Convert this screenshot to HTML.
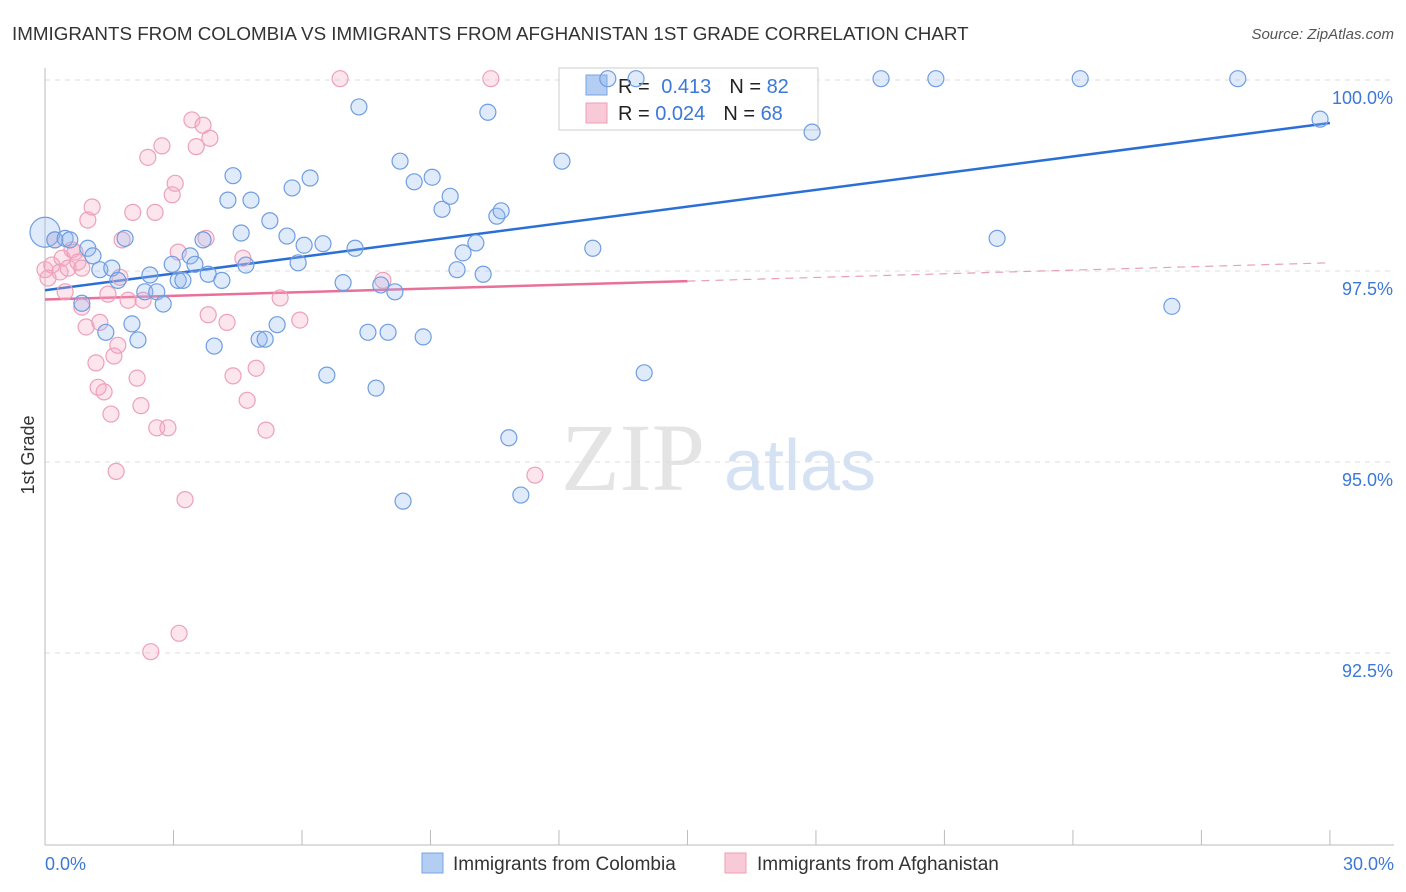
<!DOCTYPE html>
<html><head><meta charset="utf-8"><style>
body{margin:0;background:#fff;font-family:"Liberation Sans",sans-serif;}
#wrap{position:relative;width:1406px;height:892px;overflow:hidden;}
</style></head><body>
<div id="wrap">
<svg id="svg" width="1406" height="892" xmlns="http://www.w3.org/2000/svg">
<text x="12" y="40" font-size="18.8" fill="#333">IMMIGRANTS FROM COLOMBIA VS IMMIGRANTS FROM AFGHANISTAN 1ST GRADE CORRELATION CHART</text>
<text x="1394" y="39" font-size="15" fill="#555" font-style="italic" text-anchor="end">Source: ZipAtlas.com</text>
<text x="34" y="455" font-size="18" fill="#333" text-anchor="middle" transform="rotate(-90 34 455)">1st Grade</text>
<g><text x="633" y="490" font-size="96" font-family="Liberation Serif,serif" fill="#e4e4e4" text-anchor="middle">ZIP</text><text x="800" y="490" font-size="72" fill="#d4e2f4" text-anchor="middle">atlas</text></g>
<g id="grid"></g><g id="axes"></g><g id="lines"></g>
<g>
<rect x="559" y="68" width="259" height="62" fill="#fff" fill-opacity="0.85" stroke="#ccc"/>
<rect x="586" y="75" width="21" height="20" fill="#b3cdf3" stroke="#7aa5e6"/>
<rect x="586" y="103" width="21" height="20" fill="#f8c9d7" stroke="#ef9fb8"/>
<text x="618" y="93" font-size="20" fill="#222">R = <tspan fill="#3b78d8" dx="6">0.413</tspan><tspan dx="18" fill="#222">N = </tspan><tspan fill="#3b78d8">82</tspan></text>
<text x="618" y="120" font-size="20" fill="#222">R = <tspan fill="#3b78d8">0.024</tspan><tspan dx="18" fill="#222">N = </tspan><tspan fill="#3b78d8">68</tspan></text>
</g>
<g id="pts"></g>
<g>
<rect x="422" y="853" width="21" height="20" fill="#b3cdf3" stroke="#7aa5e6"/>
<text x="453" y="870" font-size="19" fill="#333">Immigrants from Colombia</text>
<rect x="725" y="853" width="21" height="20" fill="#f8c9d7" stroke="#ef9fb8"/>
<text x="757" y="870" font-size="19" fill="#333">Immigrants from Afghanistan</text>
</g>
</svg></div>
<script>
const blueX=[0,0.23,0.47,0.58,1.0,1.12,1.28,0.86,1.56,1.70,1.87,2.03,2.17,1.42,2.45,2.33,2.61,2.76,2.97,3.11,3.22,3.39,3.50,3.69,3.81,3.95,4.13,4.27,4.39,4.58,4.69,4.81,5.0,5.14,5.25,5.42,5.65,5.77,5.91,6.05,6.19,6.49,6.58,6.96,7.24,7.33,7.54,7.73,7.84,8.01,8.17,8.29,8.36,8.62,8.83,9.04,9.27,9.46,9.62,9.76,10.06,10.23,10.34,10.55,10.65,10.83,11.11,12.07,12.79,13.14,13.80,13.99,17.91,19.52,20.80,22.23,24.17,26.31,27.85,29.77];
const blueY=[98.23,98.13,98.15,98.13,98.02,97.92,97.74,97.30,97.76,97.60,98.15,97.03,96.82,96.92,97.67,97.45,97.45,97.29,97.81,97.60,97.60,97.92,97.81,98.13,97.68,96.74,97.60,98.65,98.97,98.22,97.80,98.65,96.83,96.83,98.38,97.02,98.18,98.81,97.83,98.06,98.94,98.08,96.36,97.57,98.02,99.87,96.92,96.19,97.54,96.92,97.45,99.16,94.71,98.89,96.86,98.95,98.53,98.70,97.74,97.96,98.09,97.68,99.80,98.44,98.51,95.54,94.79,99.16,98.02,100.24,100.24,96.39,99.54,100.24,100.24,98.15,100.24,97.26,100.24,99.71];
const pinkX=[0,0.07,0.16,0.23,0.35,0.40,0.47,0.54,0.63,0.70,0.77,0.86,0.86,0.96,1.0,1.10,1.19,1.24,1.28,1.38,1.47,1.54,1.61,1.66,1.70,1.75,1.80,1.94,2.05,2.15,2.24,2.29,2.40,2.47,2.57,2.61,2.73,2.87,2.97,3.04,3.11,3.13,3.27,3.43,3.53,3.69,3.76,3.81,3.85,4.25,4.39,4.62,4.72,4.93,5.16,5.49,5.95,6.89,7.89,10.41,11.44];
const pinkY=[97.74,97.63,97.80,98.13,97.71,97.89,97.45,97.76,98.0,97.97,97.84,97.76,97.25,96.99,98.39,98.56,96.52,96.20,97.05,96.14,97.42,95.85,96.61,95.10,96.75,97.64,98.13,97.34,98.49,96.32,95.96,97.34,99.21,92.74,98.49,95.67,99.36,95.67,98.72,98.87,97.97,92.98,94.73,99.70,99.35,99.63,98.15,97.15,99.46,97.05,96.35,97.89,96.03,96.45,95.64,97.37,97.08,100.24,97.60,100.24,95.05];
const yTicks=[100,97.5,95,92.5];
const yTickLabels=["100.0%","97.5%","95.0%","92.5%"];
const xTicks=[0,3,6,9,12,15,18,21,24,27,30];
const blueTrend=[97.47,99.66];
const pinkTrend=[97.35,97.59,97.83];
const NS="http://www.w3.org/2000/svg";
const X=v=>45+v*42.83, Y=v=>97+(100-v)*76.4;
function mk(p,t,a){const e=document.createElementNS(NS,t);for(const k in a)e.setAttribute(k,a[k]);document.getElementById(p).appendChild(e);return e;}
yTicks.forEach((t,i)=>{
 const l=mk('grid','line',{x1:45,x2:1394,y1:Y(t)-17,y2:Y(t)-17,stroke:'#ddd','stroke-dasharray':'5,5'});
 
 
 const tx=mk('grid','text',{x:1393,y:Y(t)+7,'font-size':18,fill:'#3b78d8','text-anchor':'end'});
 tx.textContent=yTickLabels[i];
 
 
});
mk('axes','line',{x1:45,x2:45,y1:68,y2:845,stroke:'#bbb'});
mk('axes','line',{x1:45,x2:1394,y1:845,y2:845,stroke:'#bbb'});
xTicks.forEach(t=>{const l=mk('axes','line',{x1:X(t),x2:X(t),y1:830,y2:845,stroke:'#bbb'});
 
 });
let a=mk('axes','text',{x:45,y:870,'font-size':18,fill:'#3b78d8'});a.textContent='0.0%';


a=mk('axes','text',{x:1394,y:870,'font-size':18,fill:'#3b78d8','text-anchor':'end'});a.textContent='30.0%';


let b=mk('lines','line',{x1:X(0),y1:Y(blueTrend[0]),x2:X(30),y2:Y(blueTrend[1]),stroke:'#2a6fd6','stroke-width':2.5});


b=mk('lines','line',{x1:X(0),y1:Y(pinkTrend[0]),x2:X(15),y2:Y(pinkTrend[1]),stroke:'#e8709a','stroke-width':2.5});


b=mk('lines','line',{x1:X(15),y1:Y(pinkTrend[1]),x2:X(30),y2:Y(pinkTrend[2]),stroke:'#e8a0b8','stroke-width':1.2,'stroke-dasharray':'8,6'});


pinkX.forEach((x,i)=>{const c=mk('pts','circle',{cx:X(x),cy:Y(pinkY[i]),r:8,fill:'rgba(245,170,195,0.3)',stroke:'#eea0b9','stroke-width':1.2});
 
 });
blueX.forEach((x,i)=>{const c=mk('pts','circle',{cx:X(x),cy:Y(blueY[i]),r:i==0?15:8,fill:'rgba(150,185,240,0.3)',stroke:'#6f9de2','stroke-width':1.2});
 
 });
</script>
</body></html>
